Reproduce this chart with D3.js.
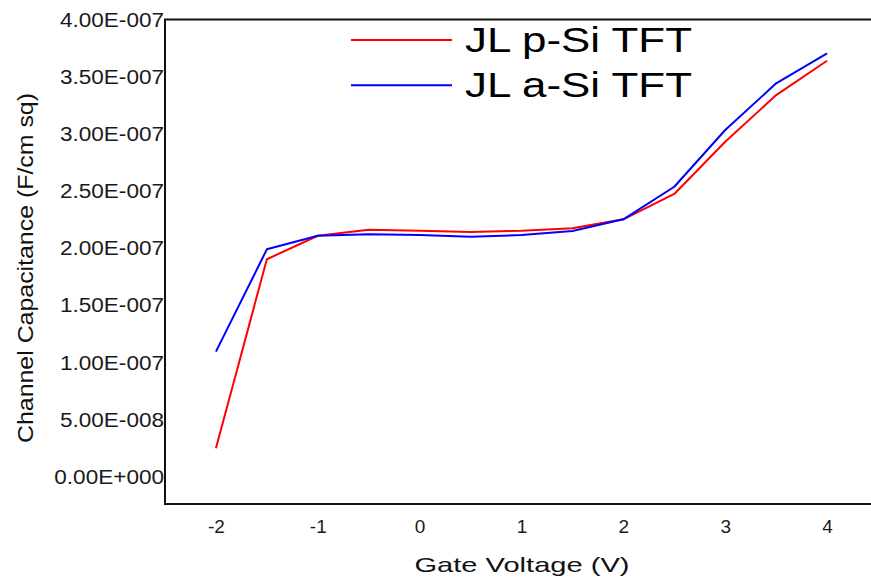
<!DOCTYPE html>
<html>
<head>
<meta charset="utf-8">
<script src="https://cdn.jsdelivr.net/npm/d3@7"></script>
<style>
  html, body { margin: 0; padding: 0; background: #fff; overflow: hidden; }
  svg { display: block; }
  text { font-family: "Liberation Sans", Arial, sans-serif; }
</style>
</head>
<body>
<svg id="chart" width="871" height="581"></svg>
<script>
// gate voltage (V)
const voltages = [-2, -1.5, -1, -0.5, 0, 0.5, 1, 1.5, 2, 2.5, 3, 3.5, 4];
// channel capacitance, F/cm sq
const pSi = [0.249e-7, 1.904e-7, 2.110e-7, 2.163e-7, 2.154e-7, 2.143e-7, 2.154e-7, 2.175e-7, 2.254e-7, 2.476e-7, 2.933e-7, 3.342e-7, 3.643e-7];
const aSi = [1.095e-7, 1.991e-7, 2.110e-7, 2.123e-7, 2.116e-7, 2.102e-7, 2.116e-7, 2.152e-7, 2.254e-7, 2.539e-7, 3.036e-7, 3.445e-7, 3.708e-7];
const seriesNames = ["JL p-Si TFT", "JL a-Si TFT"];
const seriesColors = ["#ff0000", "#0000ff"];
const xTicks = [-2, -1, 0, 1, 2, 3, 4];
const yTicks = d3.range(0, 9).map(i => i * 0.5e-7);

const margin = { left: 165, top: 20, right: 878, bottom: 504 };

const xScale = d3.scaleLinear()
  .domain([-2.5, 4.5])
  .range([margin.left, margin.right]);

const yScale = d3.scaleLinear()
  .domain([-0.24e-7, 4.0e-7])
  .range([margin.bottom, margin.top]);

// 4.00E-007 style labels
let sciFormat = function (v) {
  if (v === 0) return "0.00E+000";
  let exp = Math.floor(Math.log10(Math.abs(v)) + 1e-9);
  let mant = v / Math.pow(10, exp);
  let sign = exp < 0 ? "-" : "+";
  return mant.toFixed(2) + "E" + sign + String(Math.abs(exp)).padStart(3, "0");
};

const svg = d3.select("#chart");

// plot frame: only top, left, bottom (right edge is cut off in the original)
svg.append("path")
  .attr("d", `M${margin.right + 40},${margin.top - 0.5}H${margin.left}V${margin.bottom}H${margin.right + 40}`)
  .style("fill", "none")
  .style("stroke", "#111")
  .style("stroke-width", 2);

let yAxis = svg.append("g")
  .attr("transform", `translate(${margin.left}, 0)`)
  .call(d3.axisLeft(yScale).tickValues(yTicks).tickSize(0).tickPadding(1).tickFormat(sciFormat));
yAxis.select(".domain").remove();
yAxis.selectAll("text")
  .style("font-size", "20.5px")
  .style("fill", "#1a1a1a")
  .each(function () {
    // the original labels are a little wider than plain Arial
    let len = this.getComputedTextLength();
    d3.select(this)
      .attr("textLength", len * 1.1)
      .attr("lengthAdjust", "spacingAndGlyphs");
  });

let xAxis = svg.append("g")
  .attr("transform", `translate(0, ${margin.bottom})`)
  .call(d3.axisBottom(xScale).tickValues(xTicks).tickSize(0).tickPadding(16).tickFormat(d => String(d)));
xAxis.select(".domain").remove();
xAxis.selectAll("text")
  .style("font-size", "19px")
  .style("fill", "#1a1a1a");

// axis titles
svg.append("text")
  .attr("x", 522)
  .attr("y", 572)
  .attr("text-anchor", "middle")
  .attr("textLength", 215)
  .attr("lengthAdjust", "spacingAndGlyphs")
  .style("font-size", "21px")
  .style("fill", "#111")
  .text("Gate Voltage (V)");

svg.append("text")
  .attr("transform", "translate(33, 268) rotate(-90)")
  .attr("text-anchor", "middle")
  .attr("textLength", 350)
  .attr("lengthAdjust", "spacingAndGlyphs")
  .style("font-size", "22px")
  .style("fill", "#111")
  .text("Channel Capacitance (F/cm sq)");

const lineGenerator = d3.line()
  .x((d, i) => xScale(voltages[i]))
  .y(d => yScale(d));

[pSi, aSi].forEach((values, k) => {
  svg.append("path")
    .datum(values)
    .attr("d", lineGenerator)
    .style("fill", "none")
    .style("stroke", seriesColors[k])
    .style("stroke-width", 2)
    .style("stroke-linejoin", "round");
});

// legend
const legend = svg.append("g");
seriesNames.forEach((name, k) => {
  let y = 40 + k * 45.3;
  legend.append("line")
    .attr("x1", 351).attr("x2", 452)
    .attr("y1", y).attr("y2", y)
    .style("stroke", seriesColors[k])
    .style("stroke-width", 2);
  legend.append("text")
    .attr("x", 465)
    .attr("y", y + 11.7)
    .attr("textLength", 227)
    .attr("lengthAdjust", "spacingAndGlyphs")
    .style("font-size", "35px")
    .style("fill", "#000")
    .text(name);
});
</script>
</body>
</html>
